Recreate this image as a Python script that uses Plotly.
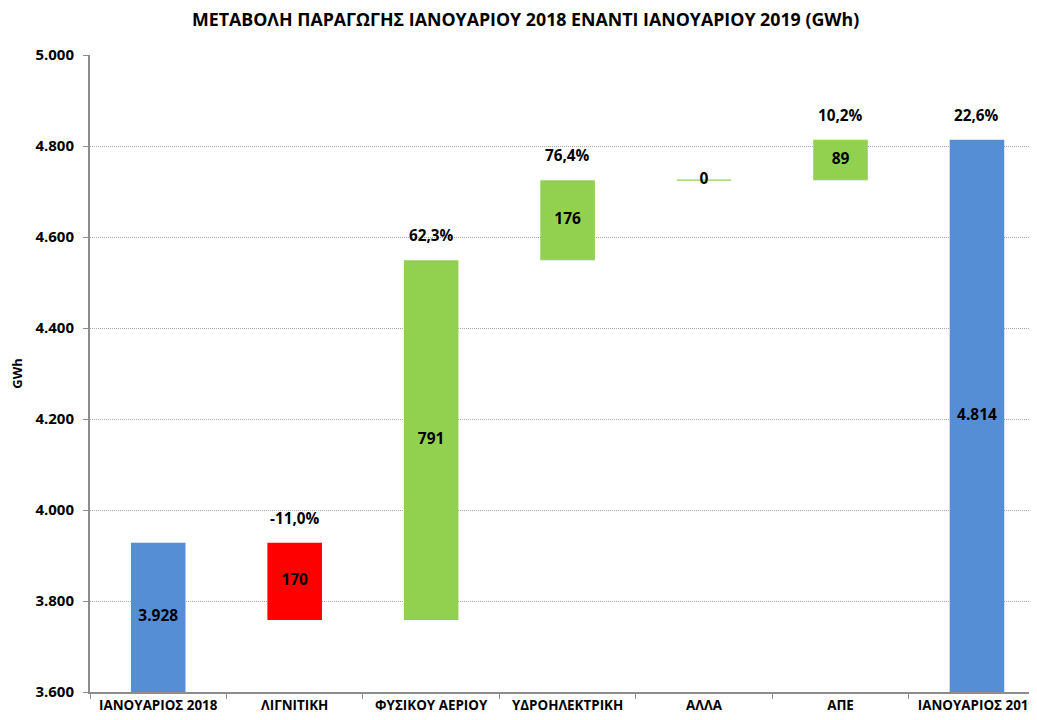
import plotly.graph_objects as go

categories = ["ΙΑΝΟΥΑΡΙΟΣ 2018", "ΛΙΓΝΙΤΙΚΗ", "ΦΥΣΙΚΟΥ ΑΕΡΙΟΥ", "ΥΔΡΟΗΛΕΚΤΡΙΚΗ",
              "ΑΛΛΑ", "ΑΠΕ", "ΙΑΝΟΥΑΡΙΟΣ 2019"]
values = [3928, -170, 791, 176, 0, 89, 4814]
measures = ["total", "relative", "relative", "relative", "relative", "relative", "total"]
value_labels = ["3.928", "170", "791", "176", "0", "89", "4.814"]
pct_labels = ["", "-11,0%", "62,3%", "76,4%", "", "10,2%", "22,6%"]

Y_MIN, Y_MAX = 3600, 5000
BLUE, GREEN, RED = "#558ED5", "#92D050", "#FF0000"
FONT = "Open Sans"

bases, heights, tops, colors, line_w = [], [], [], [], []
running = 0
for v, m in zip(values, measures):
    if m == "total":
        base, h = 0, v
        running = v
        colors.append(BLUE)
    else:
        new = running + v
        base, h = min(running, new), abs(v)
        running = new
        colors.append(GREEN if v >= 0 else RED)
    bases.append(base)
    heights.append(h)
    tops.append(base + h)
    line_w.append(1.2 if h == 0 else 0)

mids = [(max(b, Y_MIN) + t) / 2 for b, t in zip(bases, tops)]

fig = go.Figure()
fig.add_trace(go.Bar(
    x=categories, y=heights, base=bases, width=0.4,
    marker=dict(color=colors, line=dict(color=GREEN, width=line_w)),
    hoverinfo="skip", showlegend=False,
))
fig.add_trace(go.Scatter(
    x=categories, y=mids, mode="text", text=value_labels,
    textfont=dict(family=FONT, size=15.5, color="black", weight="bold"),
    hoverinfo="skip", showlegend=False,
))
for c, t, p in zip(categories, tops, pct_labels):
    if p:
        fig.add_annotation(x=c, y=t, text=p, showarrow=False, yshift=25,
                           font=dict(family=FONT, size=15.3, color="black", weight="bold"))

# page body has an 8px margin, so the figure is sized/offset accordingly
fig.update_layout(
    width=1029, height=712,
    margin=dict(l=82, r=0, t=47, b=28),
    paper_bgcolor="white", plot_bgcolor="white",
    separators=",.",
    font=dict(family=FONT, color="black"),
    title=dict(text="ΜΕΤΑΒΟΛΗ ΠΑΡΑΓΩΓΗΣ ΙΑΝΟΥΑΡΙΟΥ 2018 ΕΝΑΝΤΙ ΙΑΝΟΥΑΡΙΟΥ 2019 (GWh)",
               x=0.503, xanchor="center", y=0.983, yanchor="middle",
               font=dict(family=FONT, size=17.8, color="black", weight="bold")),
)
fig.update_yaxes(
    range=[Y_MIN, Y_MAX], dtick=200, tickformat=",d",
    showline=True, linecolor="#8C8C8C", linewidth=2,
    ticks="outside", ticklen=5, tickcolor="#8C8C8C", ticklabelstandoff=6,
    showgrid=True, gridcolor="#A8A8A8", griddash="1px,1px", gridwidth=1,
    tickfont=dict(family=FONT, size=15, color="black", weight="bold"),
    title=dict(text="GWh", standoff=14,
               font=dict(family=FONT, size=13, color="black", weight="bold")),
    zeroline=False,
)
fig.update_xaxes(
    range=[-0.5, 6.44], tickson="boundaries",
    showline=True, linecolor="#8C8C8C", linewidth=2,
    ticks="outside", ticklen=5, tickcolor="#8C8C8C",
    tickfont=dict(family=FONT, size=13.4, color="black", weight="bold"),
    showgrid=False,
)

fig.write_html("out.html")
